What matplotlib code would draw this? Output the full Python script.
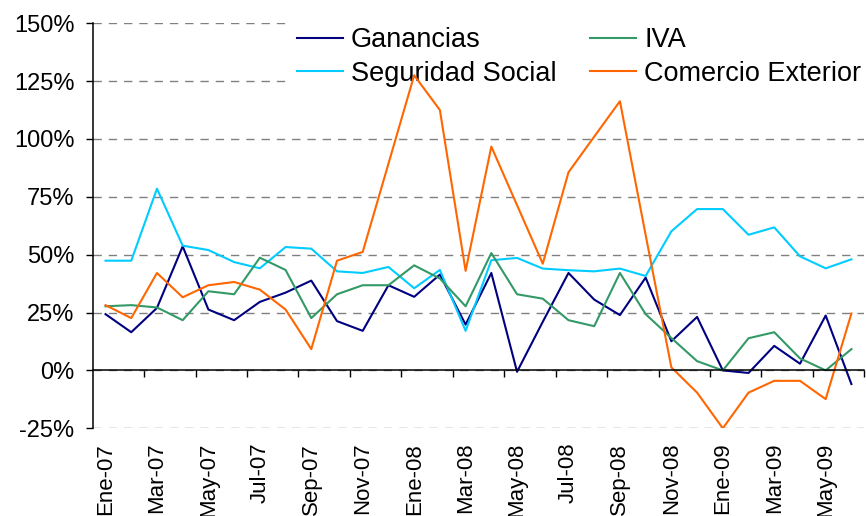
import matplotlib
matplotlib.use('Agg')
import matplotlib.pyplot as plt
import numpy as np

plt.rcParams['font.family'] = ['Liberation Sans', 'DejaVu Sans']

# Meses (Ene-07 a Jun-09)
meses = ['Ene', 'Feb', 'Mar', 'Abr', 'May', 'Jun', 'Jul', 'Ago', 'Sep', 'Oct', 'Nov', 'Dic']
periodos = [f'{m}-{a}' for a in ['07', '08', '09'] for m in meses][:30]

# Variacion interanual (%)
ganancias = [24.3, 16.5, 27.0, 53.6, 26.3, 21.7, 29.6, 33.6, 38.8, 21.3, 17.1, 36.8, 31.8, 41.4, 19.8,
             42.1, -0.6, 21.0, 42.1, 30.6, 23.9, 40.1, 12.6, 23.1, 0.0, -1.1, 10.6, 2.9, 23.7, -5.9]
iva = [27.7, 28.2, 27.2, 21.7, 34.2, 32.9, 48.7, 43.4, 22.6, 32.9, 36.8, 36.8, 45.4, 39.7, 27.7,
       50.7, 32.9, 31.0, 21.7, 19.1, 42.1, 24.3, 14.0, 4.0, 0.0, 13.9, 16.5, 5.2, 0.0, 9.2]
seguridad = [47.4, 47.4, 78.5, 53.9, 52.0, 46.8, 44.1, 53.3, 52.6, 42.8, 42.1, 44.7, 35.5, 43.4, 17.1,
             47.6, 48.6, 44.0, 43.3, 42.8, 44.0, 40.8, 60.1, 69.7, 69.7, 58.6, 61.8, 49.3, 44.1, 48.0]
comercio = [28.2, 22.6, 42.1, 31.6, 36.8, 38.2, 34.9, 26.3, 9.2, 47.4, 51.2, 89.3, 127.5, 112.5, 43.0,
            96.7, 71.4, 46.1, 85.6, 101.0, 116.3, 58.5, 1.3, -9.6, -25.0, -9.6, -4.5, -4.5, -12.4, 24.6]

x = np.arange(len(periodos))

fig = plt.figure(figsize=(8.66, 5.16), dpi=100)
ax = fig.add_axes([0.107, 0.170, 0.891, 0.785])

ax.plot(x, ganancias, color='#000080', lw=1.5, label='Ganancias')
ax.plot(x, seguridad, color='#00CCFF', lw=1.5, label='Seguridad Social')
ax.plot(x, iva, color='#339966', lw=1.5, label='IVA')
ax.plot(x, comercio, color='#FF6600', lw=1.5, label='Comercio Exterior')

ax.set_xlim(-0.5, len(periodos) - 0.5)
ax.set_ylim(-25, 150)
ax.set_yticks(np.arange(-25, 151, 25))
ax.set_yticklabels([f'{v}%' for v in range(-25, 151, 25)], fontsize=17)
ax.tick_params(axis='y', direction='out', length=5, width=1, pad=8)

# grilla punteada
ax.set_axisbelow(True)
ax.yaxis.grid(True, color='#808080', lw=1, dashes=(6, 5))

# eje x en el cero, con marcas entre categorias
for s in ['top', 'right']:
    ax.spines[s].set_visible(False)
ax.spines['bottom'].set_position(('data', 0))
ax.spines['bottom'].set_linewidth(1.1)
ax.spines['left'].set_linewidth(1.1)
ax.set_xticks(np.arange(1.5, len(periodos), 2))
ax.set_xticklabels([])
ax.tick_params(axis='x', direction='out', length=5, width=1)

for i in range(0, len(periodos), 2):
    ax.text(i, -0.036, periodos[i], rotation=90, ha='center', va='top', fontsize=16,
            transform=ax.get_xaxis_transform(), clip_on=False)

leg = ax.legend(ncol=2, loc='upper left', bbox_to_anchor=(0.330, 0.968), bbox_transform=fig.transFigure,
                fontsize=19.5, frameon=True, facecolor='white', edgecolor='none', framealpha=1,
                fancybox=False, handlelength=1.7, handletextpad=0.3, columnspacing=1.25,
                labelspacing=0.28, borderaxespad=0, borderpad=0.4)
leg.set_zorder(1.8)

fig.savefig('out.png', dpi=100)
